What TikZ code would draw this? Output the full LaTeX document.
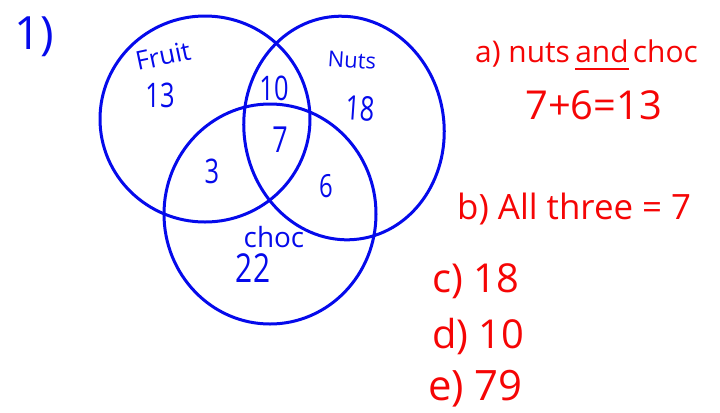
\documentclass[tikz,border=0pt]{standalone}
\usepackage{fontspec}
\setmainfont{Open Sans}
\newfontfamily\narrowhand{Open Sans}[FakeStretch=0.75]
\usetikzlibrary{positioning}

\definecolor{vennblue}{RGB}{5,10,235}
\definecolor{ansred}{RGB}{245,5,5}

\begin{document}
\begin{tikzpicture}[
  x=1bp,
  y=-1bp,
  setline/.style={
    draw=vennblue,
    line width=3bp
  },
  setname/.style={
    text=vennblue,
    inner sep=0pt,
    font=\fontsize{#1}{#1}\selectfont
  },
  count/.style={
    text=vennblue,
    inner sep=0pt,
    font=\narrowhand\fontsize{#1}{#1}\selectfont
  },
  answer/.style={
    text=ansred,
    inner sep=0pt,
    anchor=base west,
    font=\fontsize{#1}{#1}\selectfont
  },
  underscore/.style={
    draw=ansred,
    line width=2.6bp
  }
]
\useasboundingbox (0,0) rectangle (720,412);

\node[setname=46] (qnum) at (34,37) {1)};

% --- the three sets ---
\coordinate (fruitc) at (205,119);
\coordinate (nutsc) at (344,128);
\coordinate (chocc) at (270,214);
\draw[setline] (fruitc) ellipse [x radius=105, y radius=103];
\draw[setline,rotate around={8:(nutsc)}] (nutsc) ellipse [x radius=100, y radius=112];
\draw[setline] (chocc) ellipse [x radius=106, y radius=110];

% --- set labels ---
\node[setname=26,rotate=12] (fruit) at (163,56) {Fruit};
\node[setname=22,rotate=-4] (nuts) at (352,60) {Nuts};
\node[setname=28] (choc) at (274,237) {choc};

% --- region counts ---
\node[count=34] (onlyf) at (160,95) {13};
\node[count=34,rotate=-4] (onlyn) at (360,108) {18};
\node[count=34] (fn) at (274,88) {10};
\node[count=36] (fnc) at (280,140) {7};
\node[count=34] (fc) at (212,171) {3};
\node[count=32] (nc) at (326,186) {6};
\node[count=40] (onlyc) at (253,268) {22};

% --- answers ---
\node[answer=30] (ansa) at (475,62) {a) nuts};
\node[answer=30,right=0.5em of ansa.base east,anchor=base west] (andw) {and};
\node[answer=30,right=0.4em of andw.base east,anchor=base west] (chocw) {choc};
\draw[underscore] ([yshift=-7bp]andw.base west) -- ([yshift=-7bp]andw.base east);
\node[answer=40] (suma) at (525,119) {7+6=13};
\node[answer=35] (ansb) at (457,219) {b) All three = 7};
\node[answer=40] (ansc) at (432,292) {c) 18};
\node[answer=40] (ansd) at (432,348) {d) 10};
\node[answer=42] (anse) at (428,400) {e) 79};

\end{tikzpicture}
\end{document}
